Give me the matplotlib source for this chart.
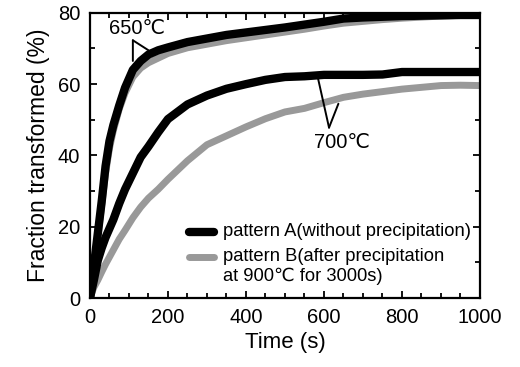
import numpy as np
import matplotlib.pyplot as plt
from matplotlib.ticker import MultipleLocator

plt.rcParams['font.family'] = ['Liberation Sans', 'DejaVu Sans']

# time (s)
t = [0, 10, 20, 30, 40, 50, 60, 75, 90, 110, 130, 150, 175, 200, 250, 300,
     350, 400, 450, 500, 550, 600, 650, 700, 750, 800, 850, 900, 950, 1000]

# fraction transformed (%)
a_650 = [0, 9, 18, 27, 37, 44, 48.5, 54, 59, 64, 66.5, 68.3, 69.5, 70.3, 71.8, 72.8,
         73.8, 74.5, 75.2, 75.9, 76.7, 77.5, 78.4, 78.7, 78.9, 79.1, 79.2, 79.3, 79.4, 79.4]
b_650 = [0, 8, 17, 26, 35, 42, 47, 53, 57.5, 62, 64.5, 66, 67.3, 68.6, 70.2, 71.2,
         72.2, 73, 73.8, 74.6, 75.4, 76.3, 77.1, 77.6, 78.1, 78.5, 78.8, 79.1, 79.3, 79.4]
a_700 = [0, 5, 10.5, 14, 17, 19.5, 22, 26.5, 30.5, 35, 39.5, 42.5, 46.5, 50.2, 54.3, 56.8,
         58.7, 60, 61.2, 62, 62.2, 62.6, 62.6, 62.6, 62.7, 63.4, 63.4, 63.4, 63.4, 63.4]
b_700 = [0, 3, 5, 7.3, 9.5, 11.5, 13.5, 16.5, 19, 22.5, 25.5, 28, 30.5, 33.3, 38.5, 43,
         45.5, 48, 50.3, 52.2, 53.2, 54.8, 56.3, 57.2, 57.9, 58.6, 59.1, 59.6, 59.7, 59.6]

label_a = 'pattern A(without precipitation)'
label_b = 'pattern B(after precipitation'
label_b2 = 'at 900\u2103 for 3000s)'

black = '#000000'
grey = '#999999'

fig = plt.figure(figsize=(5.2, 3.67), dpi=100)
ax = fig.add_axes([0.173, 0.188, 0.75, 0.777])

# grey first so black sits on top
ax.plot(t, b_650, color=grey, lw=5, solid_capstyle='butt')
ax.plot(t, b_700, color=grey, lw=5, solid_capstyle='butt')
ax.plot(t, a_650, color=black, lw=6, solid_capstyle='butt')
ax.plot(t, a_700, color=black, lw=6, solid_capstyle='butt')

ax.set_xlim(0, 1000)
ax.set_ylim(0, 80)
ax.xaxis.set_major_locator(MultipleLocator(200))
ax.xaxis.set_minor_locator(MultipleLocator(50))
ax.yaxis.set_major_locator(MultipleLocator(20))
ax.yaxis.set_minor_locator(MultipleLocator(10))
ax.tick_params(which='both', direction='in', top=True, right=True, width=1.3, labelsize=14.5, pad=7)
ax.tick_params(which='major', length=5)
ax.tick_params(which='minor', length=3.5)
for s in ax.spines.values():
    s.set_linewidth(1.6)

ax.set_xlabel('Time (s)', fontsize=16, labelpad=4)
ax.set_ylabel('Fraction transformed (%)', fontsize=16.5, labelpad=6)

# temperature labels with leader lines
ax.text(122, 75.5, '650\u2103', fontsize=14.5, ha='center', va='center')
ax.annotate('', xy=(110, 66.5), xytext=(110, 72.3),
            arrowprops=dict(arrowstyle='-', lw=1.4, shrinkA=0, shrinkB=0))
ax.annotate('', xy=(150, 69.5), xytext=(110, 72.3),
            arrowprops=dict(arrowstyle='-', lw=1.4, shrinkA=0, shrinkB=0))

ax.text(645, 43.5, '700\u2103', fontsize=14.5, ha='center', va='center')
ax.annotate('', xy=(585, 61.5), xytext=(613, 47.8),
            arrowprops=dict(arrowstyle='-', lw=1.4, shrinkA=0, shrinkB=0))
ax.annotate('', xy=(637, 54.5), xytext=(613, 47.8),
            arrowprops=dict(arrowstyle='-', lw=1.4, shrinkA=0, shrinkB=0))

# legend drawn by hand to keep the wrapped second label aligned
ax.plot([0.254, 0.318], [0.232, 0.232], transform=ax.transAxes, color=black, lw=6,
        solid_capstyle='round')
ax.plot([0.254, 0.318], [0.144, 0.144], transform=ax.transAxes, color=grey, lw=5,
        solid_capstyle='round')
ax.text(0.341, 0.232, label_a, transform=ax.transAxes, fontsize=13.2, va='center')
ax.text(0.341, 0.144, label_b, transform=ax.transAxes, fontsize=13.2, va='center')
ax.text(0.341, 0.077, label_b2, transform=ax.transAxes, fontsize=13.2, va='center')

fig.savefig('out.png', dpi=100)
